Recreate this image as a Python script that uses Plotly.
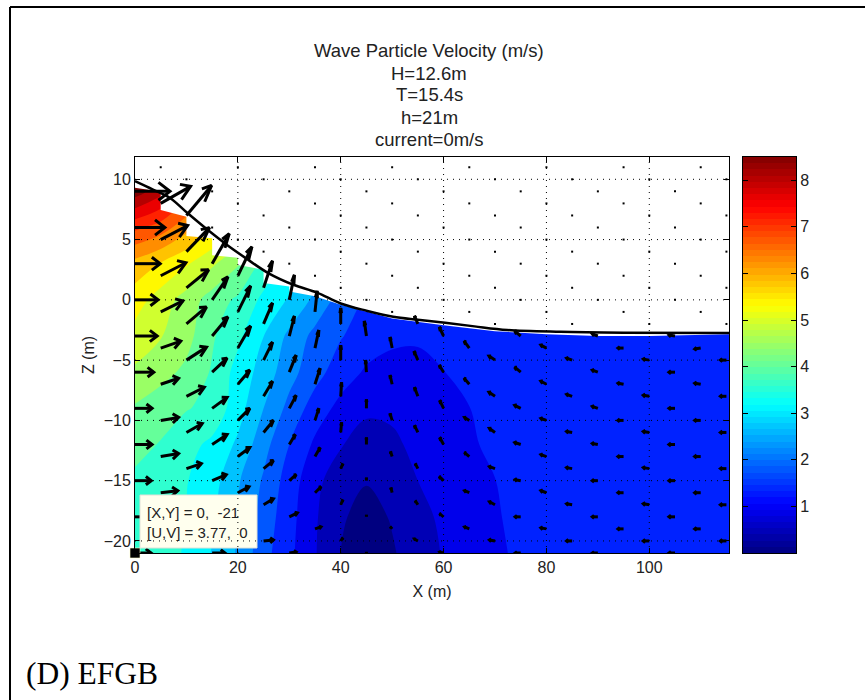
import plotly.graph_objects as go

W, H = 865, 700
title_lines = ["Wave Particle Velocity (m/s)", "H=12.6m", "T=15.4s", "h=21m", "current=0m/s"]
caption = "(D) EFGB"
tip_lines = ["[X,Y] = 0,  -21", "[U,V] = 3.77,  0"]

grid_x = [0, 5, 10, 15, 20, 25, 30, 35, 40, 45, 50, 55, 60, 65, 70, 75, 80, 85, 90, 95, 100, 105, 110, 115.5]
grid_z = [-21, -18, -15, -12, -9, -6, -3, 0, 3, 6, 9, 12]
speed_m21 = [3.77, 3.6, 3.35, 2.95, 2.5, 1.85, 1.38, 0.88, 0.42, 0.1, 0.38, 0.65, 0.88, 1.05, 1.22, 1.33, 1.4, 1.45, 1.45, 1.45, 1.45, 1.45, 1.45, 1.45]
speed_m18 = [3.76, 3.58, 3.38, 3.05, 2.55, 1.95, 1.43, 0.9, 0.48, 0.27, 0.46, 0.72, 0.93, 1.08, 1.24, 1.37, 1.42, 1.45, 1.45, 1.45, 1.45, 1.45, 1.45, 1.45]
speed_m15 = [3.75, 3.6, 3.42, 3.15, 2.6, 2.07, 1.5, 0.97, 0.6, 0.45, 0.58, 0.85, 1.02, 1.15, 1.27, 1.4, 1.42, 1.45, 1.45, 1.45, 1.45, 1.45, 1.45, 1.45]
speed_m12 = [3.95, 3.8, 3.55, 3.3, 2.9, 2.28, 1.7, 1.2, 0.88, 0.68, 0.75, 0.98, 1.13, 1.24, 1.33, 1.42, 1.45, 1.45, 1.45, 1.45, 1.45, 1.45, 1.45, 1.45]
speed_m9 = [4.2, 4.0, 3.85, 3.72, 3.15, 2.55, 2.0, 1.5, 1.15, 0.92, 0.95, 1.05, 1.18, 1.27, 1.38, 1.45, 1.45, 1.45, 1.45, 1.45, 1.45, 1.45, 1.45, 1.45]
speed_m6 = [4.6, 4.4, 4.15, 3.78, 3.24, 2.8, 2.28, 1.86, 1.48, 1.22, 1.1, 1.15, 1.27, 1.35, 1.42, 1.45, 1.45, 1.45, 1.45, 1.45, 1.45, 1.45, 1.45, 1.45]
speed_m3 = [4.95, 4.7, 4.4, 3.88, 3.5, 2.98, 2.45, 2.0, 1.73, 1.5, 1.38, 1.33, 1.36, 1.4, 1.45, 1.45, 1.45, 1.45, 1.45, 1.45, 1.45, 1.45, 1.45, 1.45]
speed_0 = [5.3, 4.9, 4.5, 4.05, 3.75, 3.3, 2.93, 2.45, 1.95, 1.65, 1.55, 1.5, 1.45, 1.45, 1.45, 1.45, 1.45, 1.45, 1.45, 1.45, 1.45, 1.45, 1.45, 1.45]
speed_3 = [5.8, 5.5, 5.15, 4.75, 4.3, 3.7, 3.3, 2.8, 2.4, 1.95, 1.7, 1.6, 1.5, 1.45, 1.45, 1.45, 1.45, 1.45, 1.45, 1.45, 1.45, 1.45, 1.45, 1.45]
speed_6 = [6.9, 6.6, 6.1, 5.6, 5.1, 4.5, 3.9, 3.3, 2.8, 2.3, 2.0, 1.8, 1.6, 1.5, 1.45, 1.45, 1.45, 1.45, 1.45, 1.45, 1.45, 1.45, 1.45, 1.45]
speed_9 = [8.3, 7.8, 7.0, 6.4, 5.8, 5.2, 4.6, 4.0, 3.4, 2.9, 2.5, 2.2, 2.0, 1.8, 1.6, 1.5, 1.45, 1.45, 1.45, 1.45, 1.45, 1.45, 1.45, 1.45]
speed_12 = [8.5, 8.2, 7.6, 7.0, 6.4, 5.8, 5.2, 4.6, 4.0, 3.4, 3.0, 2.6, 2.3, 2.1, 1.9, 1.7, 1.6, 1.5, 1.45, 1.45, 1.45, 1.45, 1.45, 1.45]

surface_x = [0, 3.5, 6.8, 10.2, 14, 17.9, 21.4, 26, 30.8, 35.4, 40, 45, 50.2, 55, 60.3, 66, 72.4, 82.7, 95, 115.5]
surface_z = [9.85, 9.15, 8.45, 7.2, 5.85, 4.55, 3.5, 2.2, 1.25, 0.6, -0.3, -0.9, -1.4, -1.65, -1.9, -2.2, -2.5, -2.65, -2.72, -2.75]

mask_x = [0, 5, 5, 10, 10, 15, 15, 20, 20, 25, 25, 30, 30, 35, 40, 50, 60, 70, 80, 90, 100, 115.5]
mask_z = [9.3, 8.96, 7.45, 6.9, 5.3, 5.1, 3.7, 3.5, 2.9, 2.5, 1.4, 1.1, 0.7, 0.3, -0.4, -1.55, -2.1, -2.6, -2.85, -3.0, -3.0, -2.85]

arrow_columns = [0, 5, 10, 15, 20, 25, 30, 35, 40, 45, 50, 55, 60, 65, 70, 75, 80, 85, 90, 95, 100, 105, 110, 115]
arrow_z = [
    [9, 6, 3, 0, -3, -6, -9, -12, -15, -18, -21],
    [8, 5, 2, -1, -4, -7, -10, -13, -16, -19],
    [7, 4, 1, -2, -5, -8, -11, -14, -17, -20],
    [3, 0, -3, -6, -9, -12, -15, -18, -21],
    [2, -1, -4, -7, -10, -13, -16, -19],
    [1, -2, -5, -8, -11, -14, -17, -20],
    [0, -3, -6, -9, -12, -15, -18, -21],
    [-1, -4, -7, -10, -13, -16, -19],
    [-2, -5, -8, -11, -14, -17, -20],
    [-3, -6, -9, -12, -15, -18, -21],
    [-4, -7, -10, -13, -16, -19],
    [-2, -5, -8, -11, -14, -17, -20],
    [-3, -6, -9, -12, -15, -18, -21],
    [-4, -7, -10, -13, -16, -19],
    [-5, -8, -11, -14, -17, -20],
    [-3, -6, -9, -12, -15, -18, -21],
    [-4, -7, -10, -13, -16, -19],
    [-5, -8, -11, -14, -17, -20],
    [-3, -6, -9, -12, -15, -18, -21],
    [-4, -7, -10, -13, -16, -19],
    [-5, -8, -11, -14, -17, -20],
    [-3, -6, -9, -12, -15, -18, -21],
    [-4, -7, -10, -13, -16, -19],
    [-5, -8, -11, -14, -17, -20],
]
arrow_u = [
    [8.2, 7.0, 5.9, 5.4, 5.2, 4.4, 4.0, 4.0, 3.8, 3.8, 3.77],
    [7.0, 6.3, 5.9, 5.2, 4.7, 4.2, 4.2, 4.2, 4.0, 3.7],
    [5.9, 5.4, 5.2, 4.7, 4.7, 4.2, 3.7, 3.5, 3.3, 3.3],
    [4.0, 3.7, 3.7, 3.5, 3.5, 3.5, 3.3, 3.0, 3.0],
    [3.3, 3.0, 3.0, 2.8, 2.8, 2.8, 2.6, 2.3],
    [2.1, 2.1, 2.1, 2.1, 2.3, 2.3, 2.3, 2.3],
    [1.2, 1.2, 1.6, 1.6, 1.4, 1.6, 1.9, 1.6],
    [0.5, 0.9, 1.2, 0.9, 1.2, 1.4, 1.4],
    [0.0, 0.0, 0.2, 0.2, 0.5, 0.5, 0.5],
    [-0.5, -0.2, 0.0, 0.0, 0.0, 0.0, 0.0],
    [-0.5, -0.5, -0.5, -0.4, -0.3, -0.4],
    [-0.8, -0.9, -0.8, -0.8, -0.6, -0.6, -0.8],
    [-1.0, -1.0, -0.9, -0.9, -1.0, -0.9, -0.9],
    [-1.2, -1.2, -1.1, -1.1, -1.1, -1.1],
    [-1.4, -1.4, -1.3, -1.3, -1.3, -1.3],
    [-1.4, -1.4, -1.4, -1.4, -1.3, -1.3, -1.3],
    [-1.3, -1.3, -1.3, -1.3, -1.3, -1.3],
    [-1.3, -1.3, -1.3, -1.3, -1.3, -1.3],
    [-1.3, -1.3, -1.3, -1.3, -1.3, -1.3, -1.3],
    [-1.3, -1.3, -1.3, -1.3, -1.3, -1.3],
    [-1.4, -1.4, -1.4, -1.4, -1.4, -1.4],
    [-1.4, -1.4, -1.4, -1.4, -1.4, -1.4, -1.4],
    [-1.4, -1.4, -1.4, -1.4, -1.4, -1.4],
    [-1.4, -1.4, -1.4, -1.4, -1.4, -1.4],
]
arrow_v = [
    [0, 0, 0, 0, 0, 0, 0, 0, 0, 0, 0],
    [1.7, 1.4, 1.3, 1.1, 0.7, 0.6, 0.3, 0.3, 0.2, 0.1],
    [3.0, 2.4, 1.8, 1.7, 1.3, 0.9, 0.9, 0.5, 0.4, 0.1],
    [3.0, 2.3, 1.9, 1.4, 1.1, 1.0, 0.6, 0.3, 0.0],
    [2.9, 2.6, 2.2, 1.4, 1.2, 0.9, 0.6, 0.3],
    [2.7, 2.1, 1.8, 1.5, 1.2, 0.8, 0.6, 0.1],
    [2.5, 2.0, 1.7, 1.3, 1.0, 0.6, 0.4, 0.1],
    [2.1, 1.8, 1.6, 1.2, 0.9, 0.6, 0.2],
    [1.6, 1.5, 1.4, 1.0, 0.5, 0.5, 0.3],
    [1.5, 1.2, 0.9, 0.7, 0.3, 0.2, 0.1],
    [1.1, 0.9, 0.7, 0.5, 0.5, 0.2],
    [0.8, 0.9, 0.9, 0.7, 0.5, 0.4, 0.2],
    [0.9, 0.7, 0.8, 0.7, 0.4, 0.3, 0.1],
    [0.7, 0.6, 0.3, 0.4, 0.2, 0.2],
    [0.4, 0.4, 0.4, 0.2, 0.3, 0.1],
    [0.5, 0.5, 0.3, 0.2, 0.1, 0.0, 0.0],
    [0.3, 0.3, 0.2, 0.2, 0.2, 0.1],
    [0.2, 0.2, 0.1, 0.1, 0.1, 0.0],
    [0.2, 0.2, 0.2, 0.1, 0.0, 0.0, 0.0],
    [0.0, 0.1, 0.0, 0.0, 0.0, 0.0],
    [0.1, 0.1, 0.1, 0.1, 0.1, 0.0],
    [0.1, 0.0, 0.0, 0.0, 0.0, 0.0, 0.0],
    [-0.1, 0.1, 0.0, 0.0, 0.0, 0.0],
    [0.0, 0.0, 0.0, 0.0, 0.0, 0.0],
]
still_x = [5, 10, 15, 15, 20, 20, 20, 25, 25, 25, 30, 30, 30, 35, 35, 35, 35, 40, 40, 40, 40, 45, 45, 45, 45, 50, 50, 50, 50, 50, 55, 55, 55, 55, 60, 60, 60, 60, 65, 65, 65, 65, 65, 70, 70, 70, 70, 70, 75, 75, 75, 75, 80, 80, 80, 80, 80, 85, 85, 85, 85, 85, 90, 90, 90, 90, 95, 95, 95, 95, 95, 100, 100, 100, 100, 100, 105, 105, 105, 105, 110, 110, 110, 110, 110, 115, 115, 115, 115, 115]
still_z = [11, 10, 9, 6, 11, 8, 5, 10, 7, 4, 9, 6, 3, 11, 8, 5, 2, 10, 7, 4, 1, 9, 6, 3, 0, 11, 8, 5, 2, -1, 10, 7, 4, 1, 9, 6, 3, 0, 11, 8, 5, 2, -1, 10, 7, 4, 1, -2, 9, 6, 3, 0, 11, 8, 5, 2, -1, 10, 7, 4, 1, -2, 9, 6, 3, 0, 11, 8, 5, 2, -1, 10, 7, 4, 1, -2, 9, 6, 3, 0, 11, 8, 5, 2, -1, 10, 7, 4, 1, -2]

colorbar_levels = [(i + 0.5) * 8.5 / 64 for i in range(64)]
x_ticks = [0, 20, 40, 60, 80, 100]
z_ticks = [-20, -15, -10, -5, 0, 5, 10]
cb_ticks = [1, 2, 3, 4, 5, 6, 7, 8]
jet = [[0, "rgb(0,0,128)"], [0.125, "rgb(0,0,255)"], [0.375, "rgb(0,255,255)"],
       [0.625, "rgb(255,255,0)"], [0.875, "rgb(255,0,0)"], [1, "rgb(128,0,0)"]]

PL, PR, PT, PB = 135, 729, 157, 553
XR = [0, 115.5]
ZR = [-21, 11.85]
SCALE = 0.83
ALPHA, BETA = 0.33, 0.33

field = [speed_m21, speed_m18, speed_m15, speed_m12, speed_m9, speed_m6, speed_m3, speed_0, speed_3, speed_6, speed_9, speed_12]

ax_lines, az_lines = [], []
for col, zs, us, vs in zip(arrow_columns, arrow_z, arrow_u, arrow_v):
    for z, u, v in zip(zs, us, vs):
        du, dv = SCALE * u, SCALE * v
        ex, ez = col + du, z + dv
        ax_lines += [col, ex, None,
                     ex - ALPHA * (du + BETA * dv), ex, ex - ALPHA * (du - BETA * dv), None]
        az_lines += [z, ez, None,
                     ez - ALPHA * (dv - BETA * du), ez, ez - ALPHA * (dv + BETA * du), None]

fig = go.Figure()
fig.add_trace(go.Contour(x=grid_x, y=grid_z, z=field, colorscale=jet, zmin=0, zmax=8.5,
                         autocontour=False, contours=dict(start=0.425, end=8.075, size=0.425, coloring="fill"),
                         line=dict(width=0), showscale=False, hoverinfo="skip"))
fig.add_trace(go.Scatter(x=mask_x + [115.5, 0], y=mask_z + [11.85, 11.85], mode="lines", fill="toself",
                         fillcolor="white", line=dict(width=0), hoverinfo="skip", showlegend=False))
fig.add_trace(go.Scatter(x=surface_x, y=surface_z, mode="lines", line=dict(color="black", width=2.5),
                         line_shape="spline", hoverinfo="skip", showlegend=False))
fig.add_trace(go.Scatter(x=ax_lines, y=az_lines, mode="lines", line=dict(color="black", width=3),
                         hoverinfo="skip", showlegend=False))
fig.add_trace(go.Scatter(x=still_x, y=still_z, mode="markers",
                         marker=dict(color="black", size=2, symbol="square"), hoverinfo="skip", showlegend=False))
fig.add_trace(go.Scatter(x=[0], y=[-21], mode="markers", cliponaxis=False,
                         marker=dict(color="black", size=10, symbol="square", line=dict(color="rgba(255,255,200,0.6)", width=1)),
                         hoverinfo="skip", showlegend=False))
fig.add_trace(go.Heatmap(x=[0.5], y=colorbar_levels, z=[[v] for v in colorbar_levels], colorscale=jet,
                         zmin=0, zmax=8.5, showscale=False, xaxis="x2", yaxis="y2", hoverinfo="skip"))

shapes = [dict(type="rect", xref="paper", yref="paper", layer="above",
               x0=140 / W, x1=257 / W, y0=1 - 548 / H, y1=1 - 495 / H,
               fillcolor="rgb(255,255,238)", line=dict(color="rgb(225,225,215)", width=1))]
for x in x_ticks[1:]:
    shapes.append(dict(type="line", x0=x, x1=x, y0=ZR[0], y1=ZR[1], xref="x", yref="y", layer="above",
                       line=dict(color="black", width=1, dash="1px,5px")))
for z in z_ticks:
    shapes.append(dict(type="line", x0=XR[0], x1=XR[1], y0=z, y1=z, xref="x", yref="y", layer="above",
                       line=dict(color="black", width=1, dash="1px,5px")))
shapes.append(dict(type="line", xref="paper", yref="paper", x0=10 / W, x1=1, y0=1 - 7 / H, y1=1 - 7 / H,
                   line=dict(color="black", width=2)))
shapes.append(dict(type="line", xref="paper", yref="paper", x0=10 / W, x1=10 / W, y0=0, y1=1 - 7 / H,
                   line=dict(color="black", width=2)))

annotations = []
for line, y in zip(title_lines, [51, 73, 95, 117, 139]):
    annotations.append(dict(text=line, xref="paper", yref="paper", x=429 / W, y=1 - y / H, showarrow=False,
                            xanchor="center", yanchor="middle", font=dict(family="Liberation Sans", size=18.5, color="#222")))
for line, y in zip(tip_lines, [512, 532]):
    annotations.append(dict(text=line, xref="paper", yref="paper", x=145 / W, y=1 - y / H, showarrow=False,
                            xanchor="left", yanchor="middle", font=dict(family="Liberation Sans", size=15, color="#222")))
annotations.append(dict(text=caption, xref="paper", yref="paper", x=24 / W, y=1 - 673 / H, showarrow=False,
                        xanchor="left", yanchor="middle", font=dict(family="Liberation Serif", size=31.5, color="black")))

axis_font = dict(family="Liberation Sans", size=16, color="#222")
common = dict(showgrid=False, zeroline=False, showline=True, linecolor="black", linewidth=1, mirror="ticks",
              ticks="inside", ticklen=5, tickcolor="black", tickfont=axis_font, automargin=False)
fig.update_layout(
    width=W, height=H, margin=dict(l=0, r=0, t=0, b=0), paper_bgcolor="white", plot_bgcolor="white",
    showlegend=False, shapes=shapes, annotations=annotations,
    xaxis=dict(domain=[PL / W, PR / W], range=XR, tickvals=x_ticks, anchor="y",
               title=dict(text="X (m)", font=axis_font, standoff=10), **common),
    yaxis=dict(domain=[1 - PB / H, 1 - PT / H], range=ZR, tickvals=z_ticks, anchor="x",
               title=dict(text="Z (m)", font=axis_font, standoff=5), **common),
    xaxis2=dict(domain=[743 / W, 796 / W], range=[0, 1], anchor="y2", showticklabels=False, ticks="",
                showgrid=False, zeroline=False, showline=True, linecolor="black", mirror=True),
    yaxis2=dict(domain=[1 - PB / H, 1 - PT / H], range=[0, 8.5], anchor="x2", side="right", tickvals=cb_ticks, **common),
)
fig.write_html("out.html", config={"displayModeBar": False},
               post_script="document.body.style.margin='0';document.documentElement.style.overflow='hidden';")
